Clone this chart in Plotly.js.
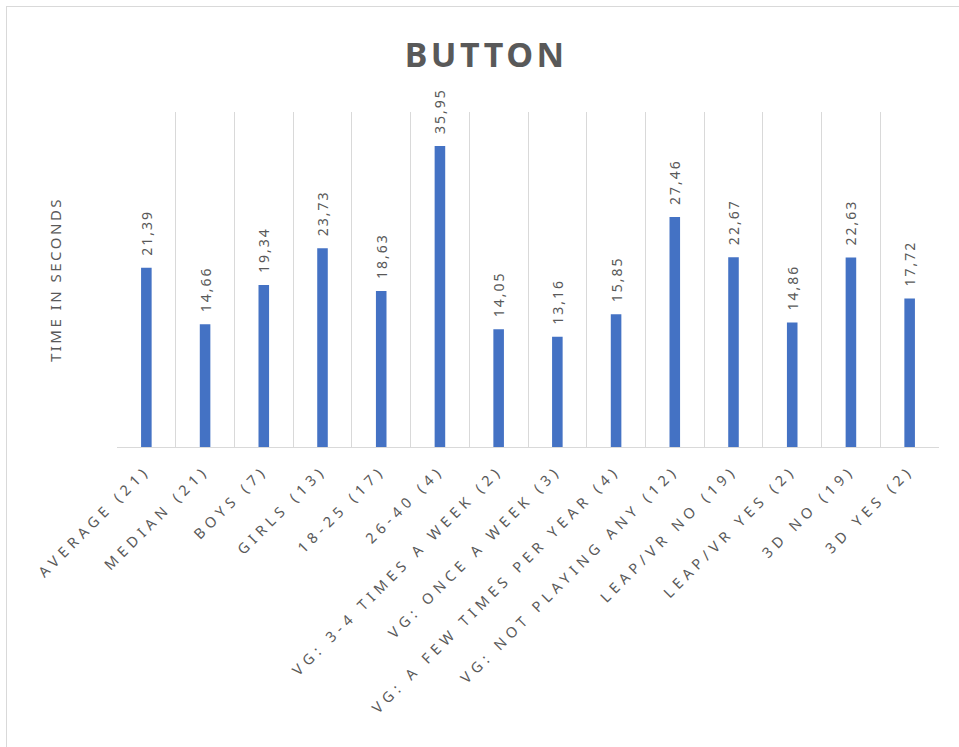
<!DOCTYPE html>
<html>
<head>
<meta charset="utf-8">
<script src="https://cdn.plot.ly/plotly-3.0.1.min.js"></script>
<style>
  html, body { margin: 0; padding: 0; background: #fff; overflow: hidden; }
  #frame { position: absolute; left: 6px; top: 6px; width: 980px; height: 760px; border: 1px solid #d9d9d9; box-sizing: border-box; }
  #chart { position: absolute; left: 0; top: 0; width: 959px; height: 747px; }
  .xtick text { letter-spacing: 5px; }
  .gtitle { letter-spacing: 3.5px; }
  .ytitle { letter-spacing: 2.5px; }
  .bartext, .textpoint text, .point text { letter-spacing: 2px; }
</style>
</head>
<body>
<div id="frame"></div>
<div id="chart"></div>
<script>
const categories = [
  "AVERAGE (21)", "MEDIAN (21)", "BOYS (7)", "GIRLS (13)", "18-25 (17)", "26-40 (4)",
  "VG: 3-4 TIMES A WEEK (2)", "VG: ONCE A WEEK (3)", "VG: A FEW TIMES PER YEAR (4)",
  "VG: NOT PLAYING ANY (12)", "LEAP/VR NO (19)", "LEAP/VR YES (2)", "3D NO (19)", "3D YES (2)"
];
const values = [21.39, 14.66, 19.34, 23.73, 18.63, 35.95, 14.05, 13.16, 15.85, 27.46, 22.67, 14.86, 22.63, 17.72];
const valueLabels = ["21,39", "14,66", "19,34", "23,73", "18,63", "35,95", "14,05", "13,16", "15,85", "27,46", "22,67", "14,86", "22,63", "17,72"];

const grey = "#595959";
const font = "'Noto Sans', 'Open Sans', sans-serif";

const trace = {
  type: "bar",
  x: categories,
  y: values,
  text: valueLabels.map(s => "\u2002" + s),
  textposition: "outside",
  textangle: -90,
  constraintext: "none",
  cliponaxis: false,
  textfont: { family: font, size: 14, color: grey },
  marker: { color: "#4472c4" },
  hoverinfo: "x+y"
};

const layout = {
  width: 959,
  height: 747,
  paper_bgcolor: "rgba(0,0,0,0)",
  plot_bgcolor: "rgba(0,0,0,0)",
  margin: { l: 117, r: 20, t: 112, b: 300 },
  bargap: 0.82,
  showlegend: false,
  title: {
    text: "<b>BUTTON</b>",
    x: 0.507,
    xref: "container",
    y: 0.926,
    yref: "container",
    yanchor: "middle",
    font: { family: font, size: 34, color: grey }
  },
  xaxis: {
    type: "category",
    tickson: "boundaries",
    showgrid: true,
    gridcolor: "#d9d9d9",
    gridwidth: 1,
    showline: true,
    linecolor: "#d9d9d9",
    linewidth: 1,
    ticks: "",
    tickangle: -45,
    ticklabelstandoff: 8,
    tickfont: { family: font, size: 14.5, color: grey },
    automargin: false
  },
  yaxis: {
    range: [0, 40],
    showgrid: false,
    zeroline: false,
    showticklabels: false,
    ticks: "",
    showline: false,
    automargin: false,
    title: {
      text: "TIME IN SECONDS",
      standoff: 50,
      font: { family: font, size: 15, color: grey }
    }
  }
};

Plotly.newPlot("chart", [trace], layout, { staticPlot: true, displayModeBar: false });
</script>
</body>
</html>
